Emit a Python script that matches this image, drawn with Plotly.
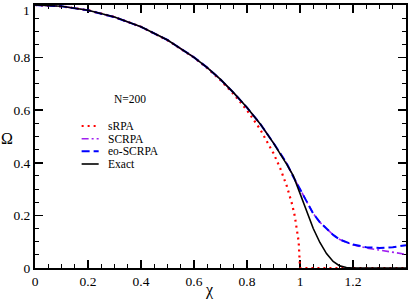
import plotly.graph_objects as go

# ---- data ----
chi_srpa = [0, 0.1, 0.2, 0.3, 0.4, 0.5, 0.6, 0.65, 0.7, 0.75, 0.8, 0.85, 0.9, 0.925,
            0.95, 0.96, 0.97, 0.98, 0.99, 0.995, 1.0, 1.1, 1.2, 1.3, 1.4]
srpa = [1.0, 0.995, 0.980, 0.954, 0.917, 0.866, 0.800, 0.760, 0.714, 0.661, 0.600,
        0.527, 0.436, 0.380, 0.312, 0.280, 0.243, 0.199, 0.141, 0.100, 0.0, 0.0, 0.0, 0.0, 0.0]

chi_exact = [0, 0.1, 0.2, 0.3, 0.4, 0.5, 0.6, 0.65, 0.7, 0.75, 0.8, 0.85, 0.9, 0.925,
             0.95, 0.975, 1.0, 1.025, 1.05, 1.075, 1.1, 1.125, 1.15, 1.175, 1.2, 1.3, 1.4]
exact = [1.0, 0.995, 0.980, 0.954, 0.917, 0.867, 0.801, 0.762, 0.717, 0.666, 0.610,
         0.548, 0.475, 0.437, 0.394, 0.350, 0.284, 0.215, 0.150, 0.097, 0.055, 0.025,
         0.008, 0.002, 0.0, 0.0, 0.0]

chi_sc = [0, 0.1, 0.2, 0.3, 0.4, 0.5, 0.6, 0.65, 0.7, 0.75, 0.8, 0.85, 0.9, 0.925,
          0.95, 0.975, 1.0, 1.025, 1.05, 1.075, 1.1, 1.125, 1.15, 1.175, 1.2,
          1.25, 1.3, 1.35, 1.4]
scrpa = [1.0, 0.995, 0.980, 0.954, 0.917, 0.867, 0.801, 0.762, 0.717, 0.666, 0.610,
         0.548, 0.475, 0.438, 0.398, 0.346, 0.300, 0.252, 0.207, 0.174, 0.148, 0.126,
         0.108, 0.097, 0.088, 0.076, 0.068, 0.060, 0.052]
eo_scrpa = [1.0, 0.995, 0.980, 0.954, 0.917, 0.867, 0.801, 0.762, 0.717, 0.666, 0.610,
            0.548, 0.475, 0.438, 0.398, 0.346, 0.300, 0.252, 0.207, 0.174, 0.148, 0.126,
            0.108, 0.097, 0.089, 0.079, 0.076, 0.079, 0.087]

x_ticks = [0, 0.2, 0.4, 0.6, 0.8, 1.0, 1.2]
x_tick_text = ["0", "0.2", "0.4", "0.6", "0.8", "1", "1.2"]
y_ticks = [0, 0.2, 0.4, 0.6, 0.8, 1.0]
# top label "1" is drawn as a nudged annotation (as in the reference, it sits just below the frame top)
y_tick_text = ["0", "0.2", "0.4", "0.6", "0.8", ""]
y_top_label = "1"

series_names = ["sRPA", "SCRPA", "eo-SCRPA", "Exact"]
legend_title = "N=200"

FONT = "Liberation Serif"

styles = [
    dict(color="#ff0000", width=2.2, dash="2px,4px"),
    dict(color="#a020f0", width=1.6, dash="7px,3px,2px,3px"),
    dict(color="#0000ff", width=2, dash="8px,4px"),
    dict(color="#000000", width=1.6, dash="solid"),
]

fig = go.Figure()
series = [(chi_srpa, srpa), (chi_sc, scrpa), (chi_sc, eo_scrpa), (chi_exact, exact)]
for (xs, ys), name, st in zip(series, series_names, styles):
    fig.add_trace(go.Scatter(x=xs, y=ys, mode="lines", name=name, line=st,
                             showlegend=False, hoverinfo="skip"))

axis_common = dict(showgrid=False, zeroline=False, showline=True, linecolor="black",
                   linewidth=2, mirror="ticks", ticks="inside", ticklen=8, tickwidth=1.5,
                   tickcolor="black", automargin=False, ticklabeloverflow="allow",
                   layer="below traces",
                   tickfont=dict(family=FONT, size=13.5, color="black"))

fig.update_xaxes(range=[0, 1.4], tickvals=x_ticks, ticktext=x_tick_text,
                 minor=dict(ticks="inside", ticklen=4, dtick=0.05, tickcolor="black", tickwidth=1),
                 **axis_common)
fig.update_yaxes(range=[0, 1], tickvals=y_ticks, ticktext=y_tick_text,
                 minor=dict(ticks="inside", ticklen=4, dtick=0.05, tickcolor="black", tickwidth=1),
                 **axis_common)

L = 35.5
W = 370.0
B = 268.0
H = 263.0
def px_x(p):
    return (p - L) / W
def px_y(p):
    return (B - p) / H

fig.add_annotation(text=y_top_label, xref="paper", yref="paper", x=px_x(32.5), y=px_y(10),
                   xanchor="right", yanchor="middle", showarrow=False,
                   font=dict(family=FONT, size=13.5, color="black"))

# Axis titles
fig.add_annotation(text="χ", xref="paper", yref="paper", x=px_x(210), y=px_y(290),
                   xanchor="center", yanchor="middle", showarrow=False,
                   font=dict(family=FONT, size=16, color="black"))
fig.add_annotation(text="Ω", xref="paper", yref="paper", x=px_x(7.5), y=px_y(138),
                   xanchor="center", yanchor="middle", showarrow=False,
                   font=dict(family=FONT, size=16, color="black"))

# Hand-made legend (compact, like the reference)
fig.add_annotation(text=legend_title, xref="paper", yref="paper", x=px_x(112), y=px_y(99),
                   xanchor="left", yanchor="middle", showarrow=False,
                   font=dict(family=FONT, size=11.5, color="black"))
rows = [126, 138.7, 151.3, 164]
for name, st, ry in zip(series_names, styles, rows):
    fig.add_shape(type="line", xref="paper", yref="paper",
                  x0=px_x(82), x1=px_x(99), y0=px_y(ry), y1=px_y(ry),
                  line=dict(color=st["color"], width=st["width"], dash=st["dash"]))
    fig.add_annotation(text=name, xref="paper", yref="paper", x=px_x(106), y=px_y(ry),
                       xanchor="left", yanchor="middle", showarrow=False,
                       font=dict(family=FONT, size=11.5, color="black"))

fig.update_layout(
    width=409, height=300,
    margin=dict(l=35, r=3, t=5, b=32),
    paper_bgcolor="white", plot_bgcolor="white",
    showlegend=False, hovermode=False,
)

fig.write_html("out.html", config={"displayModeBar": False, "staticPlot": True},
               post_script="document.body.style.margin='0px';document.body.style.padding='0px';")
